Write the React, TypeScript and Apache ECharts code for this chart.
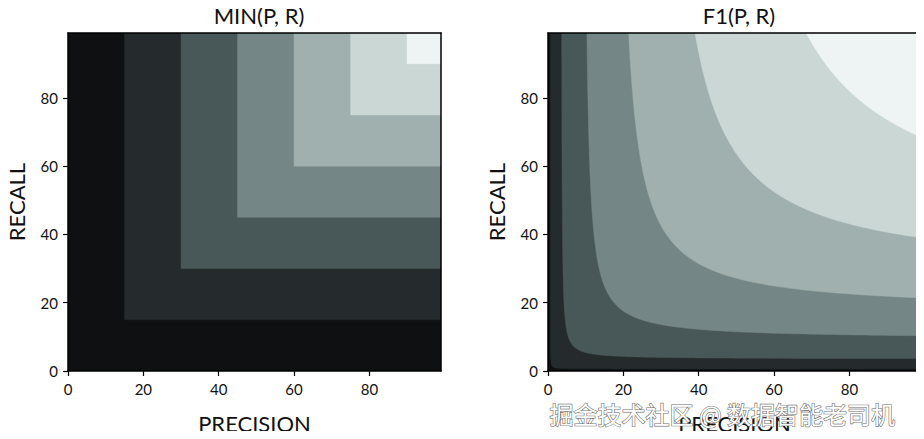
import React, { useEffect, useRef } from "react";
import * as echarts from "echarts";

// ---- data ----
const axisMax = 99;
const tickValues = [0, 20, 40, 60, 80];
const minLevels = [0, 15, 30, 45, 60, 75, 90];
const f1Levels = [0, 1.2, 7, 18.7, 35.2, 56, 81];
const bandColors = ["#0e1011", "#252a2c", "#485757", "#748685", "#9fb0ae", "#cbd7d5", "#eef4f4"];
const titles = ["MIN(P, R)", "F1(P, R)"];
const xName = "PRECISION";
const yName = "RECALL";
const watermark = "掘金技术社区 @ 数据智能老司机";

const FONT = "Lato, 'DejaVu Sans', sans-serif";

// region where min(P,R) >= level
function minRegion(lv: number, M: number): number[][] {
  return [[lv, lv], [M, lv], [M, M], [lv, M]];
}

// region where F1(P,R) = 2PR/(P+R) >= level
function f1Region(f: number, M: number): number[][] {
  if (f <= 0) return [[0, 0], [M, 0], [M, M], [0, M]];
  const p0 = (f * M) / (2 * M - f);
  const pts: number[][] = [];
  const n = 200;
  for (let i = 0; i <= n; i++) {
    const t = i / n;
    const P = p0 * Math.pow(M / p0, t);
    const R = (f * P) / (2 * P - f);
    pts.push([P, Math.min(R, M)]);
  }
  pts.push([M, M]);
  return pts;
}

export default function App() {
  const ref = useRef<HTMLDivElement>(null);
  useEffect(() => {
    if (!ref.current) return;
    const chart = echarts.init(ref.current, null, { renderer: "svg" });

    const grids = [
      { left: 68, top: 33, width: 373, height: 341.7 },
      { left: 548, top: 33, width: 373, height: 341.7 },
    ];

    const xAxes: any[] = [];
    const yAxes: any[] = [];
    grids.forEach((_, g) => {
      xAxes.push({
        type: "value", gridIndex: g, min: 0, max: axisMax, position: "bottom", z: 5,
        name: xName, nameLocation: "middle", nameGap: 41,
        nameTextStyle: { fontFamily: FONT, fontSize: 22, color: "#111" },
        axisLine: { show: true, onZero: false, lineStyle: { color: "#000", width: 1.5 } },
        axisTick: { show: true, length: 5, customValues: tickValues, lineStyle: { color: "#000", width: 1.2 } },
        axisLabel: { fontFamily: FONT, fontSize: 15, color: "#111", margin: 10, customValues: tickValues },
        splitLine: { show: false },
      });
      yAxes.push({
        type: "value", gridIndex: g, min: 0, max: axisMax, position: "left", z: 5,
        name: yName, nameLocation: "middle", nameGap: 41,
        nameTextStyle: { fontFamily: FONT, fontSize: 22, color: "#111" },
        axisLine: { show: true, onZero: false, lineStyle: { color: "#000", width: 1.5 } },
        axisTick: { show: true, length: 5, customValues: tickValues, lineStyle: { color: "#000", width: 1.2 } },
        axisLabel: { fontFamily: FONT, fontSize: 15, color: "#111", margin: 10, customValues: tickValues },
        splitLine: { show: false },
      });
    });
    // frame: top and right edges
    grids.forEach((_, g) => {
      xAxes.push({
        type: "value", gridIndex: g, min: 0, max: axisMax, position: "top", z: 5,
        axisLine: { show: true, onZero: false, lineStyle: { color: "#000", width: 1.5 } },
        axisTick: { show: false }, axisLabel: { show: false }, splitLine: { show: false },
      });
      yAxes.push({
        type: "value", gridIndex: g, min: 0, max: axisMax, position: "right", z: 5,
        axisLine: { show: true, onZero: false, lineStyle: { color: "#000", width: 1.5 } },
        axisTick: { show: false }, axisLabel: { show: false }, splitLine: { show: false },
      });
    });

    const mkSeries = (g: number, levels: number[], regionFn: (l: number, M: number) => number[][]) => ({
      type: "custom",
      xAxisIndex: g,
      yAxisIndex: g,
      z: 1,
      clip: true,
      data: levels.map((l, i) => [l, i]),
      renderItem: (_params: any, api: any) => {
        const lv = api.value(0) as number;
        const idx = api.value(1) as number;
        const pts = regionFn(lv, axisMax).map((p) => api.coord(p));
        return {
          type: "polygon",
          shape: { points: pts },
          style: { fill: bandColors[idx], stroke: bandColors[idx], lineWidth: 0.5 },
        };
      },
    });

    chart.setOption({
      animation: false,
      backgroundColor: "#ffffff",
      title: [
        { text: titles[0], left: 254, top: -1, textAlign: "center", textStyle: { fontFamily: FONT, fontSize: 22, fontWeight: "normal", color: "#111" } },
        { text: titles[1], left: 734, top: -1, textAlign: "center", textStyle: { fontFamily: FONT, fontSize: 22, fontWeight: "normal", color: "#111" } },
      ],
      grid: grids,
      xAxis: xAxes,
      yAxis: yAxes,
      series: [mkSeries(0, minLevels, minRegion), mkSeries(1, f1Levels, f1Region)],
      graphic: [
        {
          type: "text", left: 549, top: 401, z: 100,
          style: {
            text: watermark, fontFamily: "'Noto Sans CJK SC', sans-serif", fontSize: 24,
            fill: "#ffffff", stroke: "#6e6e6e", lineWidth: 1.2,
          },
        },
      ],
    });
    return () => chart.dispose();
  }, []);
  return <div ref={ref} style={{ width: 924, height: 439, margin: -8 }} />;
}
